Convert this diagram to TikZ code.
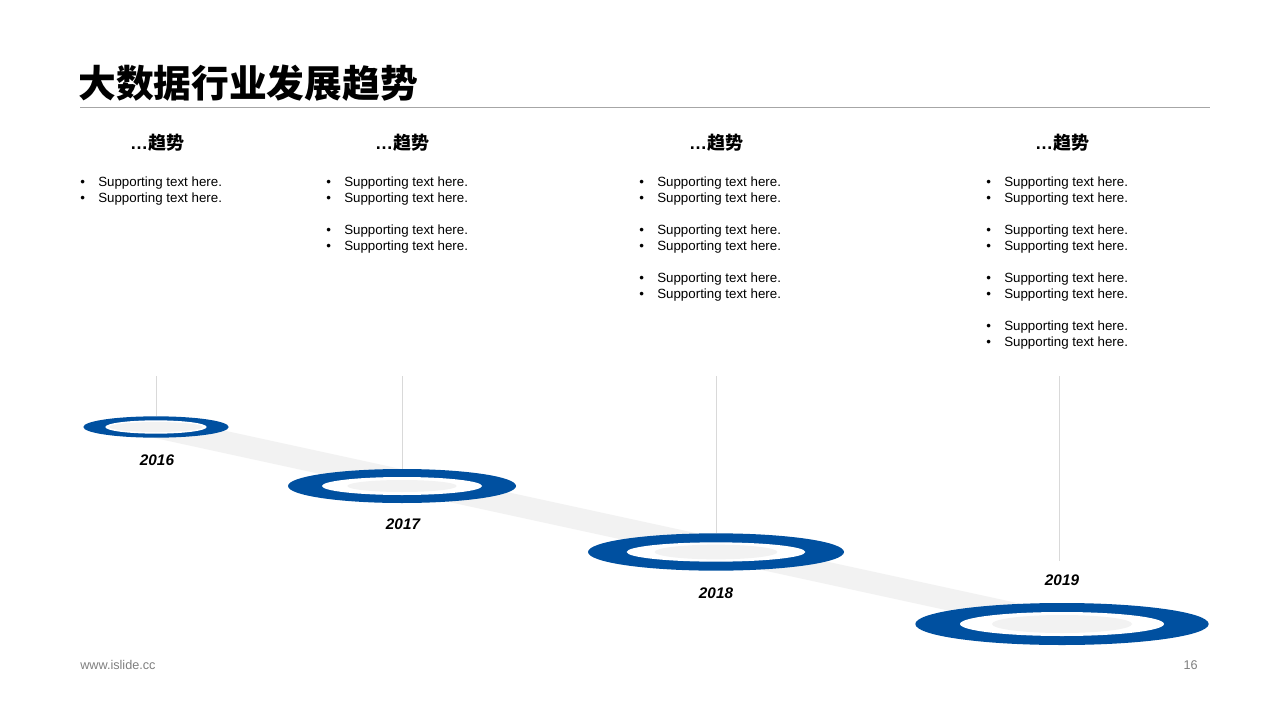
\documentclass[tikz,border=0pt]{standalone}
\usepackage{fontspec}
\setmainfont{Liberation Sans}
\newfontfamily\cjk{Noto Sans CJK SC}
\usepackage{tikz}
\usetikzlibrary{shapes.geometric}
\definecolor{Brand}{HTML}{0050A0}
\definecolor{Band}{HTML}{F2F2F2}
\definecolor{Stem}{HTML}{D9D9D9}
\definecolor{Rule}{HTML}{A6A6A6}
\definecolor{Muted}{HTML}{808080}
\tikzset{
  ring/.style={ellipse, fill=Brand, inner sep=0pt},
  hole/.style={ellipse, fill=white, inner sep=0pt},
  disc/.style={ellipse, fill=Band, inner sep=0pt},
  stem/.style={draw=Stem, line width=0.75pt},
  band/.style={draw=Band, line width=16.5pt},
  year/.style={font=\fontsize{11.5}{13}\selectfont\bfseries\itshape, inner sep=0pt},
  trend/.style={font=\fontsize{13.5}{16}\selectfont\bfseries, inner sep=0pt},
  bullets/.style={font=\fontsize{10}{12}\selectfont, align=left, inner sep=0pt, anchor=north west},
  foot/.style={font=\fontsize{9.5}{11}\selectfont, text=Muted, inner sep=0pt}
}
\newcommand{\bul}{\strut\makebox[13.5pt][l]{\textbullet}}

\begin{document}
\begin{tikzpicture}[x=0.75pt, y=-0.75pt]
  \fill[white] (0,0) rectangle (1280,720);
  \useasboundingbox (0,0) rectangle (1280,720);

  % title
  \node[anchor=west, inner sep=0pt, font=\fontsize{28.3}{30}\selectfont\cjk\bfseries] (title) at (78,83) {大数据行业发展趋势};
  \coordinate (ruleL) at (80,108);
  \coordinate (ruleR) at (1210,108);
  \draw[Rule, line width=0.75pt] (ruleL) -- (ruleR);

  % headings
  \node[trend] (head1) at (157,143) {…{\cjk 趋势}};
  \node[trend] (head2) at (402,143) {…{\cjk 趋势}};
  \node[trend] (head3) at (716,143) {…{\cjk 趋势}};
  \node[trend] (head4) at (1062,143) {…{\cjk 趋势}};

  % bullet lists
  \node[bullets] (list1) at (80,174.8) {\bul Supporting text here.\\\bul Supporting text here.};
  \node[bullets] (list2) at (326,174.8) {\bul Supporting text here.\\\bul Supporting text here.\\[12pt]
    \bul Supporting text here.\\\bul Supporting text here.};
  \node[bullets] (list3) at (639,174.8) {\bul Supporting text here.\\\bul Supporting text here.\\[12pt]
    \bul Supporting text here.\\\bul Supporting text here.\\[12pt]
    \bul Supporting text here.\\\bul Supporting text here.};
  \node[bullets] (list4) at (986,174.8) {\bul Supporting text here.\\\bul Supporting text here.\\[12pt]
    \bul Supporting text here.\\\bul Supporting text here.\\[12pt]
    \bul Supporting text here.\\\bul Supporting text here.\\[12pt]
    \bul Supporting text here.\\\bul Supporting text here.};

  % timeline band
  \coordinate (c1) at (156,427);
  \coordinate (c2) at (402,486);
  \coordinate (c3) at (716,552);
  \coordinate (c4) at (1062,624);
  \draw[band] (c1) -- (c4);

  % rings
  \node[ring, minimum width=109pt, minimum height=16pt] (ring1) at (c1) {};
  \node[hole, minimum width=76pt, minimum height=10pt] (hole1) at (c1) {};
  \node[disc, minimum width=70pt, minimum height=7.5pt] (disc1) at (c1) {};

  \node[ring, minimum width=171pt, minimum height=25.5pt] (ring2) at (c2) {};
  \node[hole, minimum width=120pt, minimum height=13.5pt] (hole2) at (c2) {};
  \node[disc, minimum width=82pt, minimum height=9pt] (disc2) at (c2) {};

  \node[ring, minimum width=192pt, minimum height=28pt] (ring3) at (c3) {};
  \node[hole, minimum width=134pt, minimum height=14.5pt] (hole3) at (c3) {};
  \node[disc, minimum width=92pt, minimum height=11pt] (disc3) at (c3) {};

  \node[ring, minimum width=220pt, minimum height=31.5pt] (ring4) at (c4) {};
  \node[hole, minimum width=153pt, minimum height=18pt] (hole4) at (c4) {};
  \node[disc, minimum width=105pt, minimum height=13.5pt] (disc4) at (c4) {};

  % years
  \node[year] (year1) at (157,460) {2016};
  \node[year] (year2) at (403,524) {2017};
  \node[year] (year3) at (716,593) {2018};
  \node[year] (year4) at (1062,580) {2019};

  % stems
  \coordinate (s1) at (156,376);
  \coordinate (s2) at (402,376);
  \coordinate (s3) at (716,376);
  \coordinate (s4) at (1059,376);
  \draw[stem] (s1) -- (s1 |- ring1.north);
  \draw[stem] (s2) -- (s2 |- ring2.north);
  \draw[stem] (s3) -- (s3 |- ring3.north);
  \draw[stem] (s4) -- ([yshift=10pt]s4 |- year4.north);

  % footer
  \node[foot, anchor=west] (site) at (80,665) {www.islide.cc};
  \node[foot, anchor=east] (page) at (1198,665) {16};
\end{tikzpicture}
\end{document}
